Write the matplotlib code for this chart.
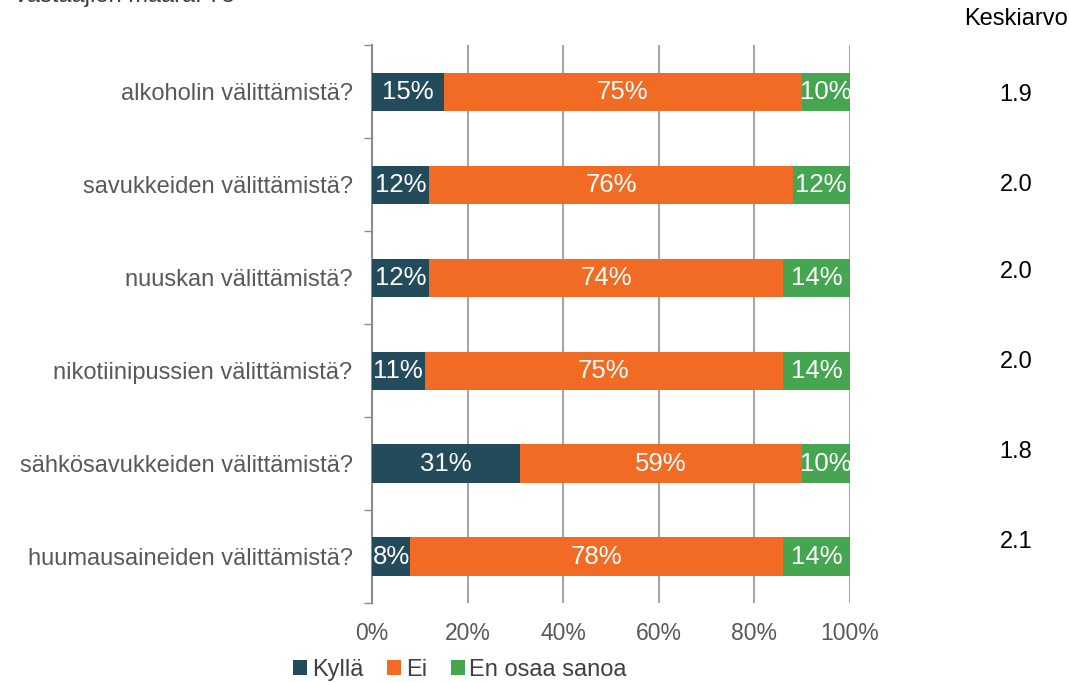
import numpy as np
import matplotlib
matplotlib.use("Agg")
import matplotlib.pyplot as plt

plt.rcParams['font.family'] = ['Liberation Sans', 'DejaVu Sans']

categories = ["alkoholin välittämistä?", "savukkeiden välittämistä?", "nuuskan välittämistä?",
              "nikotiinipussien välittämistä?", "sähkösavukkeiden välittämistä?",
              "huumausaineiden välittämistä?"]
kylla = [15, 12, 12, 11, 31, 8]
ei = [75, 76, 74, 75, 59, 78]
eos = [10, 12, 14, 14, 10, 14]
keskiarvo = ["1.9", "2.0", "2.0", "2.0", "1.8", "2.1"]
series_names = ["Kyllä", "Ei", "En osaa sanoa"]
colors = ["#234B5B", "#F26B24", "#45A550"]

fig = plt.figure(figsize=(10.69, 6.82), dpi=100)
ax = fig.add_axes([0.348, 0.1158, 0.447, 0.818])

y = np.arange(len(categories))[::-1]
left = np.zeros(len(categories))
for vals, name, col in zip([kylla, ei, eos], series_names, colors):
    vals = np.array(vals)
    ax.barh(y, vals, left=left, height=0.41, color=col, label=name, zorder=3)
    for yi, l, v in zip(y, left, vals):
        ax.text(l + v / 2, yi, f"{v}%", ha="center", va="center", color="white",
                fontsize=18.5, zorder=4)
    left = left + vals

ax.set_xlim(0, 100)
ax.set_ylim(-0.5, len(categories) - 0.5)
ax.set_xticks(np.arange(0, 101, 20))
ax.set_xticklabels([f"{v}%" for v in range(0, 101, 20)], fontsize=16.5, color="#595959")
ax.tick_params(axis="x", length=0, pad=14)
ax.set_yticks(y)
ax.set_yticklabels(categories, fontsize=17, color="#595959")
ax.tick_params(axis="y", which="major", length=0, pad=14)
ax.set_yticks(np.arange(-0.5, len(categories), 1), minor=True)
ax.tick_params(axis="y", which="minor", length=6, color="#8C8C8C", width=1)
ax.grid(axis="x", color="#A6A6A6", linewidth=1.5, zorder=0)
for s in ["top", "right", "bottom"]:
    ax.spines[s].set_visible(False)
ax.spines["left"].set_color("#8C8C8C")
ax.spines["left"].set_linewidth(1.5)

# Keskiarvo column
fig.text(1016 / 1069, 1 - 19 / 682, "Keskiarvo", ha="center", va="center", fontsize=17, color="black")
kk_y = [95, 185, 272, 362, 452, 542]
for v, py in zip(keskiarvo, kk_y):
    fig.text(1016 / 1069, 1 - py / 682, v, ha="center", va="center", fontsize=17, color="black")

fig.text(0.014, 1.0 + 0.006, "vastaajien määrä: 73", ha="left", va="center", fontsize=17, color="#404040")

fig.legend(loc="center", bbox_to_anchor=(460 / 1069, 1 - 670 / 682), ncol=3, frameon=False,
           fontsize=17, handlelength=0.6, handleheight=0.6, handletextpad=0.2,
           columnspacing=1.0, labelcolor="#404040")

fig.savefig("out.png", dpi=100)
